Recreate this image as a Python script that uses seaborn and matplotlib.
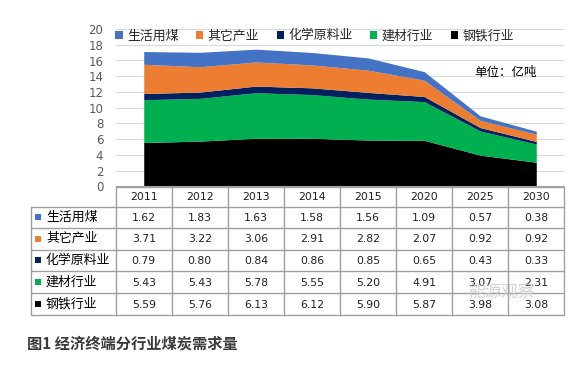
import numpy as np
import pandas as pd
import seaborn as sns
import matplotlib.pyplot as plt
from matplotlib.patches import Patch, Rectangle

years = ["2011", "2012", "2013", "2014", "2015", "2020", "2025", "2030"]
living = [1.62, 1.83, 1.63, 1.58, 1.56, 1.09, 0.57, 0.38]
other = [3.71, 3.22, 3.06, 2.91, 2.82, 2.07, 0.92, 0.92]
chemical = [0.79, 0.80, 0.84, 0.86, 0.85, 0.65, 0.43, 0.33]
building = [5.43, 5.43, 5.78, 5.55, 5.20, 4.91, 3.07, 2.31]
steel = [5.59, 5.76, 6.13, 6.12, 5.90, 5.87, 3.98, 3.08]

names = ["生活用煤", "其它产业", "化学原料业", "建材行业", "钢铁行业"]
colors = ["#4472C4", "#ED7D31", "#002060", "#00B050", "#000000"]

df = pd.DataFrame({"生活用煤": living, "其它产业": other, "化学原料业": chemical,
                   "建材行业": building, "钢铁行业": steel}, index=years)

sns.set_style("white")
plt.rcParams['font.family'] = ['Noto Sans CJK SC', 'DejaVu Sans']

W, H = 578, 370
fig = plt.figure(figsize=(W / 100, H / 100), dpi=100)

# plot area in pixel terms
left, right, top, bottom = 115.7, 564.3, 29, 186.5
ax = fig.add_axes([left / W, 1 - bottom / H, (right - left) / W, (bottom - top) / H])

x = np.arange(len(years))
stack_order = names[::-1]  # steel at the bottom
ax.stackplot(x, *[df[n].values for n in stack_order],
             colors=colors[::-1], linewidth=0)

ax.set_xlim(-0.5, len(years) - 0.5)
ax.set_ylim(0, 20)
ax.set_yticks(range(0, 21, 2))
ax.set_xticks([])
ax.tick_params(axis='y', length=0, pad=9, labelsize=8.5, labelcolor="#595959")
for lbl in ax.get_yticklabels():
    lbl.set_family('DejaVu Sans')
ax.grid(axis='y', color="#D9D9D9", linewidth=0.8)
ax.set_axisbelow(True)
for s in ["top", "right", "left"]:
    ax.spines[s].set_visible(False)
ax.spines["bottom"].set_color("#A6A6A6")

handles = [Patch(facecolor=c, edgecolor='none') for c in colors]
ax.legend(handles, names, ncol=5, loc='upper left', bbox_to_anchor=(-0.012, 1.03),
          frameon=False, fontsize=9.3, handlelength=0.55, handleheight=0.55,
          handletextpad=0.35, columnspacing=1.35, borderaxespad=0)

ax.text(0.8, 0.7, "单位：亿吨", transform=ax.transAxes, fontsize=9, color="#000000")

# data table below the chart
tab = fig.add_axes([0, 0, 1, 1])
tab.set_xlim(0, W)
tab.set_ylim(H, 0)
tab.axis('off')

line_c = "#A0A0A0"
tab_left = 30.7
col_w = (right - left) / len(years)
row_edges = [186.5, 206.5, 228, 249.5, 271, 293, 315]

# horizontal lines
tab.plot([left, right], [row_edges[0]] * 2, color=line_c, lw=1)
for y in row_edges[1:]:
    tab.plot([tab_left, right], [y, y], color=line_c, lw=1)
# vertical lines
tab.plot([tab_left, tab_left], [row_edges[1], row_edges[-1]], color=line_c, lw=1)
for i in range(len(years) + 1):
    xx = left + i * col_w
    tab.plot([xx, xx], [row_edges[0], row_edges[-1]], color=line_c, lw=1)

for i, yr in enumerate(years):
    cx = left + (i + 0.5) * col_w
    tab.text(cx, (row_edges[0] + row_edges[1]) / 2, yr, ha='center', va='center',
             fontsize=7.8, family='DejaVu Sans', color="#202020")

for r, (n, c) in enumerate(zip(names, colors)):
    cy = (row_edges[r + 1] + row_edges[r + 2]) / 2
    tab.add_patch(Rectangle((35, cy - 3.2), 6.4, 6.4, facecolor=c, edgecolor='none'))
    tab.text(46, cy, n, ha='left', va='center', fontsize=9.3, color="#000000")
    for i, v in enumerate(df[n].values):
        cx = left + (i + 0.5) * col_w
        tab.text(cx, cy + 0.5, f"{v:.2f}", ha='center', va='center',
                 fontsize=7.8, family='DejaVu Sans', color="#202020")

# watermark
tab.text(468, 292, "能源观察", ha='left', va='center', fontsize=12, color="#C8C8C8", alpha=0.8)

tab.text(27, 344, "图1 经济终端分行业煤炭需求量", ha='left', va='center',
         fontsize=11, fontweight='bold', color="#3A3A3A")

fig.savefig("out.png", dpi=100)
